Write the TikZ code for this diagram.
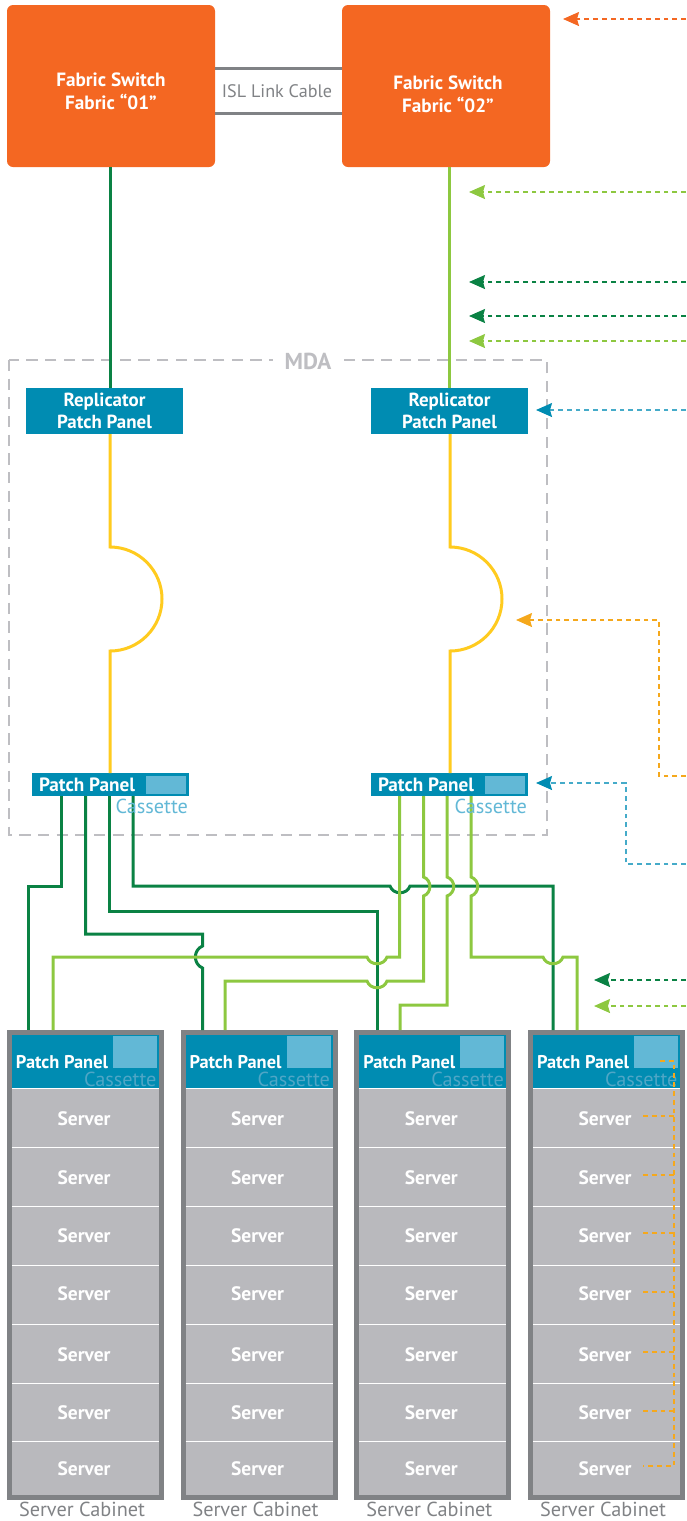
\documentclass[tikz,border=0pt]{standalone}
\usepackage{fontspec}
\setmainfont{PT Sans}
\usetikzlibrary{arrows.meta}

\definecolor{switchorange}{HTML}{F46722}
\definecolor{panelblue}{HTML}{008CB2}
\definecolor{cassetteblue}{HTML}{62B8D6}
\definecolor{cassettetext}{HTML}{4FA6C6}
\definecolor{darkcable}{HTML}{0A8244}
\definecolor{lightcable}{HTML}{8DC840}
\definecolor{yellowcable}{HTML}{FFCB1F}
\definecolor{cabinetgray}{HTML}{808285}
\definecolor{servergray}{HTML}{B9B9BD}
\definecolor{mdagray}{HTML}{BEBEC2}
\definecolor{noteorange}{HTML}{F5A81C}
\definecolor{noteblue}{HTML}{45ABC9}

\tikzset{
	box/.style={inner sep=0pt, outer sep=0pt, align=center},
	switchbox/.style={box, fill=switchorange, rounded corners=4.5pt, minimum width=156pt, minimum height=121.5pt},
	switchtext/.style={box, text=white, font=\fontsize{14.4}{17.2}\selectfont\bfseries},
	repbox/.style={box, fill=panelblue, text=white, minimum width=117.75pt, minimum height=34.5pt, font=\fontsize{14.2}{16.5}\selectfont\bfseries},
	panelbox/.style={box, fill=panelblue, minimum width=117.75pt, minimum height=17.25pt},
	cassettebox/.style={box, fill=cassetteblue},
	paneltext/.style={box, anchor=west, text=white, font=\fontsize{14.4}{15}\selectfont\bfseries},
	rackpaneltext/.style={paneltext, font=\fontsize{13.8}{15}\selectfont\bfseries},
	cassettelabel/.style={box, anchor=east, font=\fontsize{15.2}{16}\selectfont},
	graytext/.style={box, text=cabinetgray, font=\fontsize{15.2}{16}\selectfont},
	servertext/.style={box, text=white, font=\fontsize{14.6}{15}\selectfont\bfseries},
	darkline/.style={darkcable, line width=2.25pt},
	lightline/.style={lightcable, line width=2.25pt},
	yellowline/.style={yellowcable, line width=2.25pt},
	isl/.style={cabinetgray, line width=2.25pt},
	note/.style={line width=1.1pt, dash pattern=on 3.6pt off 3pt},
	notetip/.style={-{Stealth[length=12pt, width=10.5pt, inset=1.5pt, color=#1]}}
}

\begin{document}
\begin{tikzpicture}[x=0.75pt, y=-0.75pt]
	\useasboundingbox (0,0) rectangle (686,1521);

	% switches
	\node[switchbox, anchor=north west] (switch1) at (7,5) {};
	\node[switchbox, anchor=north west] (switch2) at (342,5) {};
	\node[switchtext] (switch1text) at (111,91) {Fabric Switch\\Fabric “01”};
	\node[switchtext] (switch2text) at (448,94) {Fabric Switch\\Fabric “02”};
	\draw[isl] (switch1.east |- 0,68) -- (switch2.west |- 0,68);
	\draw[isl] (switch1.east |- 0,113) -- (switch2.west |- 0,113);
	\node[graytext, font=\fontsize{13.6}{15}\selectfont] (isltext) at (277,91) {ISL Link Cable};

	% MDA
	\draw[mdagray, line width=2pt, dash pattern=on 8.5pt off 5.5pt] (9,360) rectangle (547,835);
	\node[box, fill=white, text=mdagray, minimum width=52pt, font=\fontsize{17.3}{17}\selectfont\bfseries] (mdatext) at (308,361) {MDA};

	\node[repbox, anchor=north west] (rep1) at (26,388) {Replicator\\Patch Panel};
	\node[repbox, anchor=north west] (rep2) at (371,388) {Replicator\\Patch Panel};
	\node[panelbox, anchor=north west] (panel1) at (32,773) {};
	\node[panelbox, anchor=north west] (panel2) at (371,773) {};
	\node[cassettebox, minimum width=30pt, minimum height=13.5pt, anchor=north west] (cassette1) at (146,776) {};
	\node[cassettebox, minimum width=30pt, minimum height=13.5pt, anchor=north west] (cassette2) at (485,776) {};
	\node[paneltext] (panel1text) at (39,785) {Patch Panel};
	\node[paneltext] (panel2text) at (378,785) {Patch Panel};

	% switch to panels
	\draw[darkline] (110,0 |- switch1.south) -- (110,0 |- rep1.north);
	\draw[lightline] (449.5,0 |- switch2.south) -- (449.5,0 |- rep2.north);
	\draw[yellowline] (110,0 |- rep1.south) -- (110,547) arc[start angle=-90, end angle=90, radius=52] -- (110,0 |- panel1.north);
	\draw[yellowline] (450,0 |- rep2.south) -- (450,547) arc[start angle=-90, end angle=90, radius=52] -- (450,0 |- panel2.north);

	% cabinets
	\foreach \c/\cx in {1/7,2/180.5,3/354.3,4/528} {
		\node[box, fill=cabinetgray, minimum width=117.75pt, minimum height=352.5pt, anchor=north west] (cabinet\c) at (\cx,1030) {};
		\node[box, fill=servergray, minimum width=110.25pt, minimum height=304.5pt, anchor=north west] (rack\c) at (\cx+5,1089) {};
		\node[box, fill=panelblue, minimum width=110.25pt, minimum height=39.75pt, anchor=north west] (rackpanel\c) at (\cx+5,1035) {};
		\node[cassettebox, minimum width=33pt, minimum height=24pt, anchor=north west] (rackcassette\c) at (\cx+106,1036) {};
		\node[rackpaneltext] (rackpaneltext\c) at (\cx+9,1062) {Patch Panel};
		\node[cassettelabel, text=cassettetext] (racklabel\c) at (\cx+149.5,1079) {Cassette};
		\draw[white, line width=0.8pt] (\cx+5,1088.5) -- (\cx+152,1088.5);
		\foreach \ly in {1147.5,1206.5,1265.5,1324,1383,1441.5}
			\draw[white, line width=0.6pt] (\cx+5,\ly) -- (\cx+152,\ly);
		\foreach \r/\ry in {1/1119,2/1178,3/1236,4/1294,5/1355,6/1413,7/1469}
			\node[servertext] (server\c\r) at (\cx+77,\ry) {Server};
		\node[graytext] (cabinettext\c) at (\cx+75,1509.5) {Server Cabinet};
	}

	% dark cables
	\draw[darkline] (61.5,0 |- panel1.south) -- (61.5,886) -- (28.5,886) -- (28.5,0 |- cabinet1.north);
	\draw[darkline] (85.5,0 |- panel1.south) -- (85.5,934) -- (202.5,934) -- (202.5,946)
		.. controls (193,950) and (193,964) .. (202.5,968) -- (202.5,0 |- cabinet2.north);
	\draw[darkline] (109,0 |- panel1.south) -- (109,911) -- (377,911) -- (377,0 |- cabinet3.north);
	\draw[darkline] (133,0 |- panel1.south) -- (133,886) -- (390,886)
		.. controls (393,895) and (407,895) .. (410,886) -- (553,886) -- (553,0 |- cabinet4.north);

	% light cables
	\draw[lightline] (399.7,0 |- panel2.south) -- (399.7,957) -- (387,957)
		.. controls (384,966) and (370,966) .. (367,957) -- (53,957) -- (53,0 |- cabinet1.north);
	\draw[lightline] (423.5,0 |- panel2.south) -- (423.5,877)
		.. controls (432,880) and (432,893) .. (423.5,896) -- (423.5,981) -- (387,981)
		.. controls (384,990) and (370,990) .. (367,981) -- (225,981) -- (225,0 |- cabinet2.north);
	\draw[lightline] (447,0 |- panel2.south) -- (447,877)
		.. controls (456,880) and (456,893) .. (447,896) -- (447,1005) -- (400,1005) -- (400,0 |- cabinet3.north);
	\draw[lightline] (471,0 |- panel2.south) -- (471,877)
		.. controls (480,880) and (480,893) .. (471,896) -- (471,957) -- (543,957)
		.. controls (546,966) and (560,966) .. (563,957) -- (577,957) -- (577,0 |- cabinet4.north);

	\node[cassettelabel, text=cassetteblue] (panel1label) at (188,806) {Cassette};
	\node[cassettelabel, text=cassetteblue] (panel2label) at (527,806) {Cassette};

	% notes on the right
	\coordinate (rightedge) at (686,0);
	\draw[switchorange, note, notetip=switchorange] (rightedge |- 0,19) -- (563,19);
	\draw[lightcable, note, notetip=lightcable] (rightedge |- 0,192) -- (469,192);
	\draw[darkcable, note, notetip=darkcable] (rightedge |- 0,282) -- (469,282);
	\draw[darkcable, note, notetip=darkcable] (rightedge |- 0,316) -- (469,316);
	\draw[lightcable, note, notetip=lightcable] (rightedge |- 0,341) -- (469,341);
	\draw[noteblue, note, notetip=panelblue] (rightedge |- 0,410) -- (536,410);
	\draw[noteorange, note, notetip=noteorange] (rightedge |- 0,776) -- (659,776) -- (659,620) -- (516,620);
	\draw[noteblue, note, notetip=panelblue] (rightedge |- 0,864) -- (626,864) -- (626,783) -- (536,783);
	\draw[darkcable, note, notetip=darkcable] (rightedge |- 0,980) -- (594,980);
	\draw[lightcable, note, notetip=lightcable] (rightedge |- 0,1006) -- (594,1006);

	% orange bus over the servers
	\draw[noteorange, note] (660,1061) -- (674,1061) -- (674,1466) -- (643,1466);
	\foreach \sy in {1116,1175,1233,1292,1352,1411}
		\draw[noteorange, note] (643,\sy) -- (674,\sy);
\end{tikzpicture}
\end{document}
